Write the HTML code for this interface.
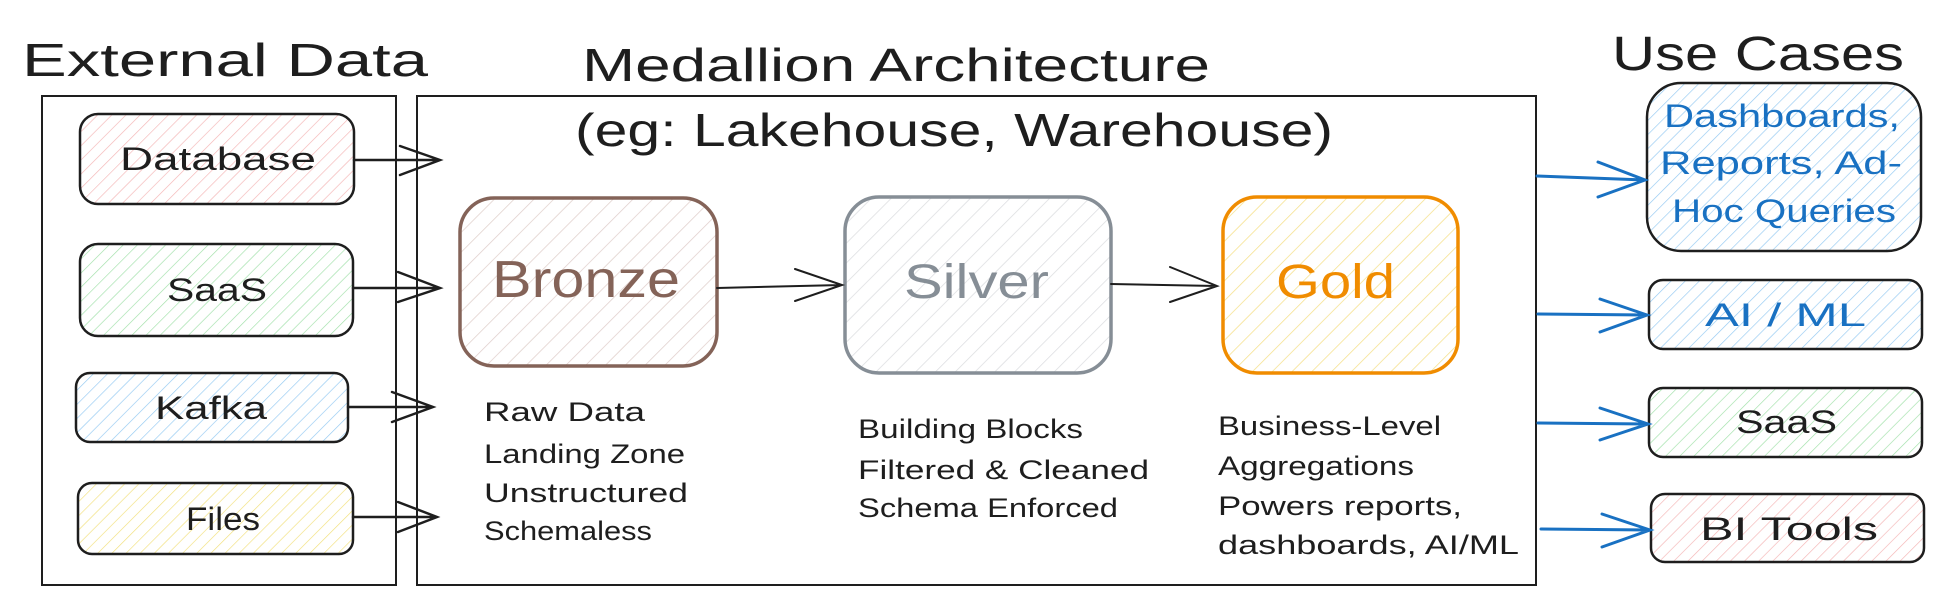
<!DOCTYPE html>
<html><head><meta charset="utf-8"><style>
html,body{margin:0;padding:0;background:#fff;width:1945px;height:605px;overflow:hidden}
svg{display:block}
text{font-family:"Liberation Sans",sans-serif}
</style></head><body>
<svg width="1945" height="605" viewBox="0 0 1945 605" xmlns="http://www.w3.org/2000/svg">
<defs>
<pattern id="pR" width="10" height="10" patternUnits="userSpaceOnUse" patternTransform="rotate(45)"><line x1="0" y1="0" x2="0" y2="10" stroke="#f4b4b4" stroke-width="1.3"/></pattern>
<pattern id="pG" width="10" height="10" patternUnits="userSpaceOnUse" patternTransform="rotate(45)"><line x1="0" y1="0" x2="0" y2="10" stroke="#9fe0a8" stroke-width="1.3"/></pattern>
<pattern id="pB" width="10" height="10" patternUnits="userSpaceOnUse" patternTransform="rotate(45)"><line x1="0" y1="0" x2="0" y2="10" stroke="#93c9f2" stroke-width="1.3"/></pattern>
<pattern id="pY" width="10" height="10" patternUnits="userSpaceOnUse" patternTransform="rotate(45)"><line x1="0" y1="0" x2="0" y2="10" stroke="#f2e07a" stroke-width="1.3"/></pattern>
<pattern id="pBr" width="14" height="14" patternUnits="userSpaceOnUse" patternTransform="rotate(45)"><line x1="0" y1="0" x2="0" y2="14" stroke="#e0cfcb" stroke-width="1.5"/></pattern>
<pattern id="pS" width="14" height="14" patternUnits="userSpaceOnUse" patternTransform="rotate(45)"><line x1="0" y1="0" x2="0" y2="14" stroke="#dcdde0" stroke-width="1.5"/></pattern>
<pattern id="pGo" width="14" height="14" patternUnits="userSpaceOnUse" patternTransform="rotate(45)"><line x1="0" y1="0" x2="0" y2="14" stroke="#f5e08a" stroke-width="1.5"/></pattern>
</defs>

<g lengthAdjust="spacingAndGlyphs">
<text x="22" y="76" font-size="46" fill="#1e1e1e" textLength="406" lengthAdjust="spacingAndGlyphs">External Data</text>
<text x="582" y="81" font-size="46" fill="#1e1e1e" textLength="628" lengthAdjust="spacingAndGlyphs">Medallion Architecture</text>
<text x="575" y="146" font-size="46" fill="#1e1e1e" textLength="758" lengthAdjust="spacingAndGlyphs">(eg: Lakehouse, Warehouse)</text>
<text x="1612" y="70" font-size="48" fill="#1e1e1e" textLength="292" lengthAdjust="spacingAndGlyphs">Use Cases</text>
</g>

<rect x="42" y="96" width="354" height="489" fill="none" stroke="#1e1e1e" stroke-width="2"/>
<rect x="417" y="96" width="1119" height="489" fill="none" stroke="#1e1e1e" stroke-width="2"/>

<g stroke="#1e1e1e" stroke-width="2.5">
<rect x="80" y="114" width="274" height="90" rx="18" fill="url(#pR)"/>
<rect x="80" y="244" width="273" height="92" rx="18" fill="url(#pG)"/>
<rect x="76" y="373" width="272" height="69" rx="14" fill="url(#pB)"/>
<rect x="78" y="483" width="275" height="71" rx="14" fill="url(#pY)"/>
</g>
<g font-size="32" fill="#1e1e1e">
<text x="120" y="170" textLength="196" lengthAdjust="spacingAndGlyphs">Database</text>
<text x="167" y="301" textLength="100" lengthAdjust="spacingAndGlyphs">SaaS</text>
<text x="155" y="419" textLength="112" lengthAdjust="spacingAndGlyphs">Kafka</text>
<text x="186" y="530" textLength="74" lengthAdjust="spacingAndGlyphs">Files</text>
</g>
<g stroke="#1e1e1e" stroke-width="2.5" fill="none" stroke-linecap="round">
<path d="M354 160 L440 160 M400 146 L440 160 L400 175"/>
<path d="M353 288 L440 288 M398 272 L440 288 L398 302"/>
<path d="M348 407 L433 407 M392 392 L433 407 L392 422"/>
<path d="M353 517 L437 517 M398 502 L437 517 L398 532"/>
</g>

<rect x="460" y="198" width="257" height="168" rx="34" fill="url(#pBr)" stroke="#846358" stroke-width="3.5"/>
<rect x="845" y="197" width="266" height="176" rx="34" fill="url(#pS)" stroke="#868e96" stroke-width="3.5"/>
<rect x="1223" y="197" width="235" height="176" rx="34" fill="url(#pGo)" stroke="#f08c00" stroke-width="3.5"/>
<text x="492" y="297" font-size="52" fill="#846358" textLength="188" lengthAdjust="spacingAndGlyphs">Bronze</text>
<text x="904" y="298" font-size="48" fill="#868e96" textLength="145" lengthAdjust="spacingAndGlyphs">Silver</text>
<text x="1276" y="298" font-size="48" fill="#f08c00" textLength="119" lengthAdjust="spacingAndGlyphs">Gold</text>
<g stroke="#1e1e1e" stroke-width="2" fill="none" stroke-linecap="round">
<path d="M717 288 L842 285 M795 269 L842 285 L795 301"/>
<path d="M1111 284 L1217 286 M1170 267 L1217 286 L1170 302"/>
</g>
<g font-size="27" fill="#1e1e1e">
<text x="484" y="421" textLength="161" lengthAdjust="spacingAndGlyphs">Raw Data</text>
<text x="484" y="463" textLength="201" lengthAdjust="spacingAndGlyphs">Landing Zone</text>
<text x="484" y="502" textLength="204" lengthAdjust="spacingAndGlyphs">Unstructured</text>
<text x="484" y="540" textLength="168" lengthAdjust="spacingAndGlyphs">Schemaless</text>
<text x="858" y="438" textLength="225" lengthAdjust="spacingAndGlyphs">Building Blocks</text>
<text x="858" y="479" textLength="291" lengthAdjust="spacingAndGlyphs">Filtered &amp; Cleaned</text>
<text x="858" y="517" textLength="260" lengthAdjust="spacingAndGlyphs">Schema Enforced</text>
<text x="1218" y="435" textLength="223" lengthAdjust="spacingAndGlyphs">Business-Level</text>
<text x="1218" y="475" textLength="196" lengthAdjust="spacingAndGlyphs">Aggregations</text>
<text x="1218" y="515" textLength="244" lengthAdjust="spacingAndGlyphs">Powers reports,</text>
<text x="1218" y="554" textLength="301" lengthAdjust="spacingAndGlyphs">dashboards, AI/ML</text>
</g>

<g stroke="#1e1e1e" stroke-width="2.5">
<rect x="1647" y="83" width="274" height="168" rx="34" fill="url(#pB)"/>
<rect x="1649" y="280" width="273" height="69" rx="14" fill="url(#pB)"/>
<rect x="1649" y="388" width="273" height="69" rx="14" fill="url(#pG)"/>
<rect x="1651" y="494" width="273" height="68" rx="14" fill="url(#pR)"/>
</g>
<g font-size="32">
<text x="1664" y="127" fill="#1971c2" textLength="236" lengthAdjust="spacingAndGlyphs">Dashboards,</text>
<text x="1660" y="174" fill="#1971c2" textLength="242" lengthAdjust="spacingAndGlyphs">Reports, Ad-</text>
<text x="1672" y="222" fill="#1971c2" textLength="224" lengthAdjust="spacingAndGlyphs">Hoc Queries</text>
<text x="1705" y="326" fill="#1971c2" textLength="161" lengthAdjust="spacingAndGlyphs">AI / ML</text>
<text x="1736" y="433" fill="#1e1e1e" textLength="101" lengthAdjust="spacingAndGlyphs">SaaS</text>
<text x="1700" y="540" fill="#1e1e1e" textLength="178" lengthAdjust="spacingAndGlyphs">BI Tools</text>
</g>
<g stroke="#1971c2" stroke-width="3" fill="none" stroke-linecap="round">
<path d="M1537 176 L1645 180 M1598 162 L1645 180 L1598 197"/>
<path d="M1538 314 L1647 315 M1600 299 L1647 315 L1600 332"/>
<path d="M1538 423 L1648 424 M1600 408 L1648 424 L1600 440"/>
<path d="M1541 529 L1650 530 M1602 514 L1650 530 L1602 547"/>
</g>
</svg>
</body></html>
